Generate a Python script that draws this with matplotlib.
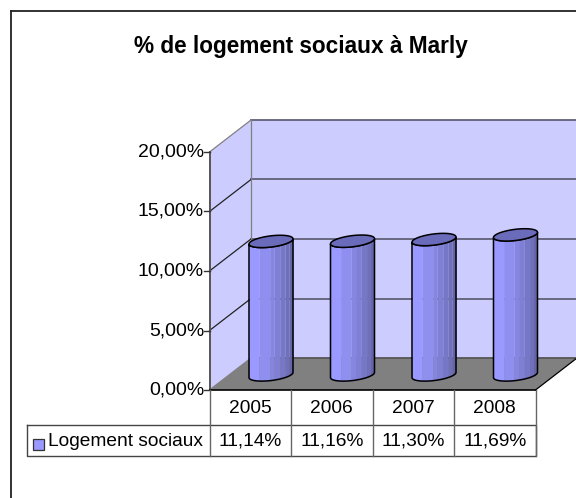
import matplotlib
matplotlib.use('Agg')
import matplotlib.pyplot as plt
from matplotlib.patches import Polygon
import numpy as np

plt.rcParams['font.family'] = ['Liberation Sans', 'DejaVu Sans']

annees = ['2005', '2006', '2007', '2008']
valeurs = [11.14, 11.16, 11.30, 11.69]
etiquettes = ['11,14%', '11,16%', '11,30%', '11,69%']
ticks = [0, 5, 10, 15, 20]
tick_labels = ['0,00%', '5,00%', '10,00%', '15,00%', '20,00%']
serie = 'Logement sociaux'
titre = '% de logement sociaux à Marly'

# bandes du cylindre, de gauche a droite
bandes = [0, .23, .47, .57, .70, .82, .91, 1]
couleurs = ['#9999FF', '#8F8FEF', '#8686E0', '#7F7FD5', '#7777C8', '#6F6FBA', '#6464A8']

W, H = 576, 498
taille = 13.8
fig = plt.figure(figsize=(W / 100, H / 100), dpi=100)
fig.patch.set_facecolor('white')

# fond en pixels : cadre et titre
fond = fig.add_axes([0, 0, 1, 1])
fond.set_xlim(0, W)
fond.set_ylim(H, 0)
fond.axis('off')
fond.plot([11, 11], [H, 11], color='#222222', lw=1.3)
fond.plot([11, W], [11, 11], color='#222222', lw=1.3)
fond.text(301, 46, titre, ha='center', va='center', fontsize=16.3, fontweight='bold')

# axe principal : plan avant du graphique
x0, x1, y0, y1 = 209.5, 535.5, 390.0, 152.0
ax = fig.add_axes([x0 / W, 1 - y0 / H, (x1 - x0) / W, (y0 - y1) / H])
ax.set_xlim(0, 4)
ax.set_ylim(0, 20)
ax.axis('off')
ux = (x1 - x0) / 4   # pixels par categorie
uy = (y0 - y1) / 20  # pixels par unite
dx = 41.5 / ux
dy = 32 / uy
ymax = ticks[-1]

# murs et sol
ax.add_patch(Polygon([(dx, dy), (4 + dx, dy), (4 + dx, ymax + dy), (dx, ymax + dy)],
                     fc='#CCCCFF', ec='none', clip_on=False, zorder=1))
ax.add_patch(Polygon([(0, 0), (dx, dy), (dx, ymax + dy), (0, ymax)],
                     fc='#CCCCFF', ec='none', clip_on=False, zorder=1))
ax.add_patch(Polygon([(0, 0), (4, 0), (4 + dx, dy), (dx, dy)],
                     fc='#808080', ec='none', clip_on=False, zorder=1))

for t in ticks[1:]:
    ax.plot([dx, 4 + dx], [t + dy, t + dy], color='#606078', lw=1.3, clip_on=False, zorder=2)
    c = '#808080' if t == ymax else '#222222'
    ax.plot([0, dx], [t, t + dy], color=c, lw=0.9, clip_on=False, zorder=2)
ax.plot([dx, dx], [dy, ymax + dy], color='#808080', lw=0.9, clip_on=False, zorder=2)
ax.plot([dx, 4 + dx], [dy, dy], color='#555555', lw=1.3, clip_on=False, zorder=2)
ax.plot([0, dx], [0, dy], color='#808080', lw=0.9, clip_on=False, zorder=2)
ax.plot([4, 4 + dx], [0, dy], color='black', lw=0.9, clip_on=False, zorder=2)
ax.plot([0, 0], [0, ymax], color='#555555', lw=1.4, clip_on=False, zorder=3)
ax.plot([0, 4], [0, 0], color='black', lw=1.2, clip_on=False, zorder=3)

# graduations
for t, lab in zip(ticks, tick_labels):
    ax.plot([-6 / ux, 0], [t, t], color='#333333', lw=1, clip_on=False, zorder=3)
    ax.text(-5.5 / ux, t, lab, ha='right', va='center', fontsize=14)

# cylindres
a = 22 / ux
b = 5.6 / uy
pente = 2.6 / uy
th = np.linspace(0, 2 * np.pi, 73)


def ellipse(cx, cy, t):
    return cx + a * np.cos(t), cy + b * np.sin(t) + pente * np.cos(t)


for i, v in enumerate(valeurs):
    cx = i + 0.5 + dx / 2
    bas = dy * 0.47
    haut = v + dy / 2
    tb = np.linspace(np.pi, 2 * np.pi, 37)
    xb, yb = ellipse(cx, bas, tb)
    xh, yh = ellipse(cx, haut, tb)
    corps = np.vstack([np.c_[xb, yb], np.c_[xh, yh][::-1]])
    for g, d, c in zip(bandes[:-1], bandes[1:], couleurs):
        xg, xd = cx - a + 2 * a * g, cx - a + 2 * a * d
        ok = (xb >= xg - 0.02) & (xb <= xd + 0.02)
        xs = np.r_[xg, xb[ok], xd]
        ys_b = np.interp(xs, xb, yb)
        ys_h = np.interp(xs, xh, yh)
        ax.fill_between(xs, ys_b, ys_h, color=c, lw=0, clip_on=False, zorder=4)
    ax.add_patch(Polygon(corps, closed=True, fc='none', ec='black', lw=1.1,
                         clip_on=False, zorder=5))
    xt, yt = ellipse(cx, haut, th)
    ax.fill(xt, yt, fc='#6B6BBB', ec='black', lw=1.1, clip_on=False, zorder=6)

# tableau de donnees sous le graphique
l1 = -35 / uy
l2 = -66 / uy
gauche = (26.5 - x0) / ux
gris = '#666666'
ax.plot([gauche, 4, 4, gauche, gauche], [l1, l1, l2, l2, l1], color='#444444', lw=1,
        clip_on=False, zorder=3)
for k in range(5):
    ax.plot([k, k], [0, l2], color=gris, lw=1, clip_on=False, zorder=3)
for k, (an, et) in enumerate(zip(annees, etiquettes)):
    ax.text(k + 0.5, l1 / 2 - 0.05, an, ha='center', va='center', fontsize=taille)
    ax.text(k + 0.5, (l1 + l2) / 2 - 0.05, et, ha='center', va='center', fontsize=taille)
ax.text((48 - x0) / ux, (l1 + l2) / 2 - 0.05, serie, ha='left', va='center', fontsize=taille)
cle = [((32.5 - x0) / ux, -49 / uy), ((44 - x0) / ux, -49 / uy),
       ((44 - x0) / ux, -60 / uy), ((32.5 - x0) / ux, -60 / uy)]
ax.add_patch(Polygon(cle, fc=couleurs[0], ec='#333333', lw=0.9, clip_on=False, zorder=3))

fig.savefig('out.png', dpi=100)
